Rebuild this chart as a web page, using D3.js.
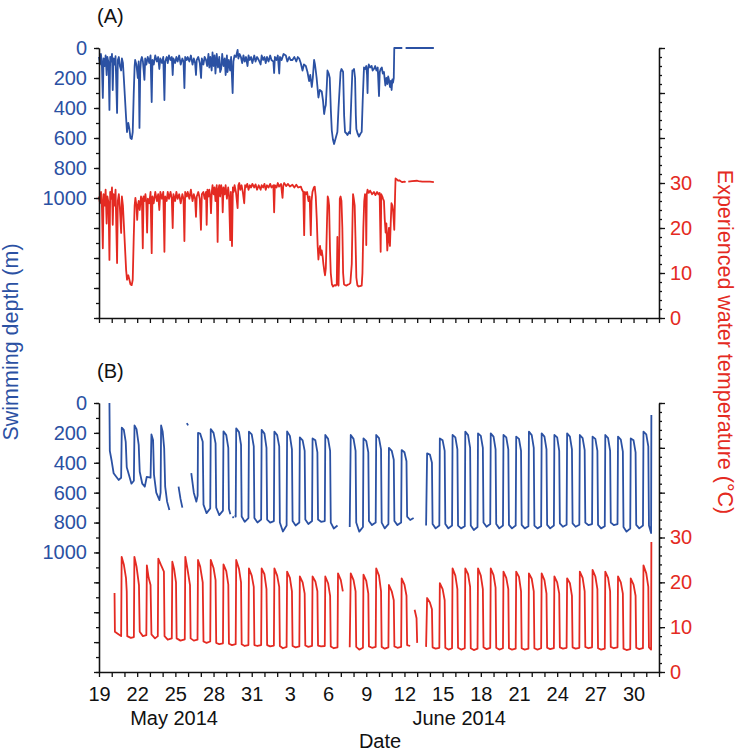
<!DOCTYPE html>
<html><head><meta charset="utf-8">
<script src="https://cdn.jsdelivr.net/npm/d3@7"></script>
<style>
body{margin:0;background:#fff}
text{font-family:"Liberation Sans",Arial,Helvetica,sans-serif}
</style>
</head><body>
<svg id="chart" width="740" height="753"></svg>
<script>
// ---------- data (day offsets from 19 May 2014 00:00 UTC) ----------
const startDate = Date.UTC(2014, 4, 19);
const endDate = Date.UTC(2014, 6, 2);
const depthTickLabels = [0, 200, 400, 600, 800, 1000];
const tempTickLabels = [0, 10, 20, 30];
const monthLabels = [["May 2014", 5.9], ["June 2014", 28.3]];
const panelLabels = ["(A)", "(B)"];

const aDepth = [
[0.0,60],[0.08,110],[0.15,40],[0.22,90],[0.3,333],[0.36,70],[0.45,120],[0.52,50],[0.6,180],[0.66,60],[0.75,100],[0.82,413],[0.88,60],[0.95,90],[1.02,40],[1.08,280],[1.14,70],[1.22,110],[1.3,55],[1.42,433],[1.48,80],[1.56,60],[1.64,120],[1.74,150],[1.8,70],[1.88,100],[1.95,200],
[2.13,467],[2.2,560],[2.3,500],[2.39,540],[2.47,600],[2.57,607],[2.65,560],[2.73,300],[2.8,120],[2.84,80],[2.94,110],[3.05,200],[3.12,90],[3.18,533],[3.24,150],[3.3,80],[3.37,60],
[3.45,90],[3.57,213],[3.63,70],[3.72,110],[3.83,60],[3.95,100],[4.05,50],[4.14,360],[4.2,80],[4.3,110],[4.42,50],[4.55,90],[4.65,60],[4.74,140],[4.82,70],[4.95,100],[5.05,60],[5.14,347],[5.2,90],[5.32,60],[5.4,100],[5.5,50],[5.62,80],[5.72,60],[5.79,180],[5.85,70],[5.98,100],[6.08,60],[6.18,90],[6.3,50],[6.42,110],[6.55,70],[6.64,90],[6.71,267],[6.77,60],[6.9,80],[6.97,60],
[7.1,90],[7.22,50],[7.35,110],[7.45,70],[7.55,100],[7.62,180],[7.68,80],[7.8,60],[7.92,100],[8.02,200],[8.08,70],[8.2,110],[8.3,60],[8.41,80],[8.5,120],[8.6,40],[8.67,130],[8.75,60],[8.85,150],[8.92,30],[9.0,120],[9.08,50],[9.15,170],[9.25,40],[9.35,130],[9.45,60],[9.52,160],[9.6,140],[9.68,40],[9.78,120],[9.88,70],[9.95,180],[10.05,50],[10.1,160],[10.2,80],[10.3,150],[10.38,60],[10.5,300],[10.56,90],[10.65,50],[10.76,60],[10.89,13],[10.95,70],[11.05,40],[11.15,60],[11.25,100],[11.35,50],[11.45,90],[11.55,60],[11.67,120],[11.75,50],[11.85,80],[11.95,60],[12.05,100],[12.2,50],[12.3,90],[12.42,60],[12.55,80],[12.7,110],[12.78,50],[12.9,80],[13.0,60],[13.1,100],[13.2,60],[13.32,90],[13.45,50],[13.55,80],[13.7,90],[13.76,167],[13.82,60],[13.95,80],[14.05,50],[14.16,170],[14.22,60],[14.35,80],[14.5,40],[14.68,50],[14.8,90],[14.95,60],[15.05,80],[15.2,80],[15.35,60],[15.5,90],[15.62,60],[15.73,70],[15.85,100],[15.99,150],[16.1,110],[16.25,120],[16.38,160],[16.51,220],[16.6,180],[16.72,260],[16.8,200],[16.9,80],[16.97,110],[17.03,150],[17.1,200],[17.24,330],[17.35,280],[17.5,290],[17.6,350],[17.69,440],[17.76,400],[17.82,380],[17.9,250],[17.95,150],[18.05,170],[18.13,200],[18.22,420],[18.29,550],[18.38,610],[18.47,640],[18.6,600],[18.73,560],[18.82,400],[18.92,250],[18.98,160],[19.05,140],[19.12,150],[19.18,160],[19.26,450],[19.33,560],[19.45,570],[19.52,580],[19.65,560],[19.73,570],[19.82,350],[19.91,150],[19.98,150],[20.04,140],[20.12,200],[20.18,450],[20.22,540],[20.32,570],[20.43,590],[20.55,570],[20.64,560],[20.72,350],[20.82,130],[20.9,140],[21.0,120],[21.06,180],[21.1,300],[21.14,140],[21.2,110],[21.3,130],[21.42,120],[21.5,150],[21.6,140],[21.7,120],[21.8,150],[21.9,130],[22.0,320],[22.06,160],[22.13,140],[22.22,130],[22.3,170],[22.39,160],[22.45,210],[22.5,250],[22.58,200],[22.66,240],[22.72,190],[22.78,210],[22.86,260],[22.93,220],[22.99,280],[23.05,210],[23.1,230],[23.16,200],[23.2,0],[23.83,0],[23.9,null],[24.09,0],[26.31,0]
];

const aTemp = [
[0.0,27],[0.08,25.5],[0.16,28],[0.22,26],[0.3,15.5],[0.36,27.5],[0.45,25],[0.52,28.5],[0.6,21],[0.66,27],[0.75,25.5],[0.82,12.9],[0.88,28],[0.95,26.5],[1.02,29],[1.08,20.7],[1.14,27.5],[1.22,25],[1.3,28.5],[1.42,12.2],[1.48,26],[1.56,27.5],[1.64,24.5],[1.74,18.9],[1.8,27],[1.88,25],[1.95,21],
[2.13,10.7],[2.2,8.5],[2.3,9.5],[2.39,8.5],[2.47,7.5],[2.57,7.3],[2.65,8.5],[2.73,18],[2.8,25],[2.86,26.7],[2.94,25],[3.0,21.8],[3.06,25],[3.12,26],[3.2,24],[3.3,27],[3.37,26.5],
[3.44,15.5],[3.5,27],[3.57,26],[3.65,27.5],[3.72,25.5],[3.78,19],[3.84,26.5],[3.95,25.5],[4.05,28],[4.14,14.4],[4.2,27],[4.3,25.5],[4.42,28],[4.55,26],[4.65,27.5],[4.74,24],[4.82,28],[4.95,26.5],[5.05,28],[5.14,14.7],[5.2,27],[5.32,26],[5.4,28],[5.5,26.5],[5.62,28],[5.72,26.5],[5.79,20],[5.85,27.5],[5.98,26],[6.08,28],[6.18,26.5],[6.3,27.5],[6.42,25.5],[6.55,27.5],[6.64,26.5],[6.71,17.1],[6.77,28],[6.9,27],[6.97,28],
[7.1,26.5],[7.22,28.5],[7.35,26],[7.45,27.5],[7.55,26.5],[7.62,22.5],[7.68,27],[7.8,28],[7.92,26.5],[8.01,19.6],[8.08,27.5],[8.2,28],[8.3,26.5],[8.41,28],[8.46,20.7],[8.52,28.5],[8.6,27],[8.67,28.5],[8.75,26.5],[8.8,23.3],[8.86,28],[8.92,29.5],[9.0,27.5],[9.08,29],[9.15,26],[9.25,29.5],[9.32,16.9],[9.38,28.5],[9.45,29.5],[9.52,27],[9.6,29.5],[9.68,28],[9.72,23.5],[9.78,29],[9.88,27.5],[9.95,29.5],[10.05,26.5],[10.15,29],[10.22,27],[10.31,17.3],[10.36,28],[10.45,16],[10.52,29],[10.58,28],[10.65,29.5],[10.76,28],[10.89,24.4],[10.95,29.5],[11.02,30],[11.1,28.5],[11.2,29.5],[11.3,28],[11.41,25.5],[11.48,29.5],[11.54,29],[11.65,29.8],[11.75,28.5],[11.85,29.5],[11.95,29],[12.05,29.8],[12.2,29],[12.3,29.7],[12.42,28.5],[12.55,29.5],[12.7,28.5],[12.78,29.5],[12.9,29],[13.0,29.8],[13.1,28.5],[13.2,29.5],[13.32,29],[13.45,29.8],[13.55,29],[13.7,29.5],[13.76,23.5],[13.82,29.5],[13.95,29],[14.05,30],[14.15,29.2],[14.3,29.8],[14.42,26.7],[14.48,29.5],[14.55,30],[14.7,29.3],[14.85,29.8],[15.0,29.2],[15.2,29.6],[15.35,29],[15.5,29.6],[15.65,29],[15.86,29.2],[15.95,28.5],[16.05,28],[16.12,18.4],[16.18,28],[16.25,27.5],[16.35,28],[16.46,26],[16.55,27],[16.64,18.4],[16.7,26],[16.77,28],[16.88,29],[16.95,29.2],[17.03,27],[17.11,22],[17.18,16],[17.24,13],[17.3,15],[17.37,16],[17.44,14],[17.5,15],[17.58,13.5],[17.63,12],[17.7,10.5],[17.76,9.5],[17.82,11],[17.86,15],[17.92,22],[17.97,27],[18.02,26.5],[18.08,25],[18.15,15],[18.21,10],[18.3,7.5],[18.39,7],[18.5,7.3],[18.6,7.2],[18.68,7.5],[18.73,18],[18.76,7.5],[18.82,7.2],[18.88,15],[18.92,26.5],[18.98,27],[19.05,26],[19.12,20],[19.18,10],[19.25,7.5],[19.33,7.3],[19.45,7.2],[19.55,7.4],[19.65,7.5],[19.75,7.8],[19.86,12],[19.92,22],[19.96,27.5],[20.02,26.5],[20.09,25],[20.15,18],[20.22,9],[20.3,7.3],[20.38,7],[20.5,7.1],[20.64,7.2],[20.7,10],[20.77,20],[20.84,26],[20.9,27.5],[20.96,27],[21.0,16.2],[21.04,27.5],[21.1,28.5],[21.2,27.8],[21.3,28.3],[21.46,27.5],[21.6,28],[21.72,27.3],[21.85,28],[21.95,27.5],[22.05,27.8],[22.13,14.7],[22.18,27.5],[22.26,27],[22.32,26.5],[22.39,26],[22.45,22],[22.52,19],[22.58,21],[22.65,15],[22.72,18],[22.78,20],[22.83,17],[22.86,16],[22.92,21],[22.98,25.5],[23.05,25],[23.1,24],[23.15,22],[23.2,19.6],[23.26,27],[23.3,31],[23.4,30.8],[23.5,30.5],[23.6,30.6],[23.7,30.4],[23.83,30.2],[24.0,30.3],[24.09,30.2],[24.15,null],[24.3,30.3],[24.6,30.4],[25.0,30.5],[25.1,30.4],[25.4,30.3],[25.6,30.3],[26.0,30.3],[26.31,30.2]
];

const bDepth = [
[0.82,0],[0.85,320],[1.0,390],[1.15,470],[1.37,495],[1.55,515],[1.74,500],
[1.79,165],[1.95,180],[2.1,260],[2.18,430],[2.35,480],[2.55,540],[2.74,520],
[2.79,150],[2.95,175],[3.12,280],[3.2,460],[3.4,540],[3.6,560],[3.75,495],[4.05,500],
[4.12,210],[4.25,250],[4.32,480],[4.5,600],[4.75,650],[4.84,600],
[4.88,150],[5.0,190],[5.12,300],[5.2,560],[5.35,660],[5.53,716],[5.56,null],
[6.25,560],[6.4,640],[6.55,700],[6.58,null],[6.9,135],[7.0,150],[7.03,null],
[7.25,470],[7.45,600],[7.65,660],[7.75,620],
[7.78,200],[7.95,205],[8.15,260],[8.21,680],[8.45,737],[8.74,705],
[8.78,175],[9.0,200],[9.16,270],[9.21,700],[9.45,750],[9.74,720],
[9.78,190],[10.0,215],[10.16,300],[10.21,710],[10.32,745],[10.33,null],[10.5,760],[10.58,770],[10.6,null],[10.68,750],[10.74,760],
[10.78,170],[11.0,195],[11.16,280],[11.21,760],[11.45,795],[11.74,770],
[11.78,192],[12.0,210],[12.16,290],[12.21,770],[12.45,800],[12.74,780],
[12.78,180],[13.0,205],[13.16,300],[13.21,780],[13.45,800],[13.74,790],
[13.78,192],[14.0,215],[14.16,290],[14.21,800],[14.45,860],[14.74,820],
[14.78,190],[15.0,220],[15.16,310],[15.21,790],[15.45,820],[15.74,800],
[15.78,230],[16.0,250],[16.16,320],[16.21,780],[16.45,810],[16.74,790],
[16.78,237],[17.0,250],[17.16,330],[17.21,780],[17.45,795],[17.74,790],
[17.78,214],[18.0,240],[18.16,320],[18.21,800],[18.45,840],[18.74,820],[18.76,null],
[19.7,830],
[19.78,214],[20.0,240],[20.16,320],[20.21,800],[20.45,861],[20.74,830],
[20.78,237],[21.0,255],[21.16,330],[21.21,790],[21.45,817],[21.74,800],
[21.78,214],[22.0,235],[22.16,310],[22.21,800],[22.45,839],[22.74,810],
[22.78,300],[23.0,320],[23.16,380],[23.21,790],[23.45,817],[23.74,800],
[23.78,315],[24.0,330],[24.16,390],[24.21,760],[24.45,783],[24.72,770],[24.74,null],
[25.7,820],
[25.78,337],[26.0,345],[26.16,400],[26.21,810],[26.45,839],[26.74,820],
[26.78,237],[27.0,250],[27.16,320],[27.21,810],[27.45,839],[27.74,820],
[27.78,214],[28.0,230],[28.16,310],[28.21,820],[28.45,839],[28.74,825],
[28.78,192],[29.0,215],[29.16,300],[29.21,820],[29.45,850],[29.74,830],
[29.78,203],[30.0,220],[30.16,300],[30.21,800],[30.45,828],[30.74,810],
[30.78,203],[31.0,225],[31.16,310],[31.21,810],[31.45,839],[31.74,820],
[31.78,214],[32.0,230],[32.16,310],[32.21,815],[32.45,839],[32.74,820],
[32.78,225],[33.0,240],[33.16,320],[33.21,815],[33.45,839],[33.74,825],
[33.78,192],[34.0,215],[34.16,300],[34.21,820],[34.45,839],[34.74,825],
[34.78,203],[35.0,225],[35.16,310],[35.21,815],[35.45,839],[35.74,820],
[35.78,214],[36.0,230],[36.16,320],[36.21,805],[36.45,828],[36.74,815],
[36.78,203],[37.0,225],[37.16,310],[37.21,805],[37.45,828],[37.74,815],
[37.78,214],[38.0,235],[38.16,315],[38.21,800],[38.45,817],[38.74,810],
[38.78,225],[39.0,240],[39.16,320],[39.21,815],[39.45,839],[39.74,825],
[39.78,214],[40.0,235],[40.16,320],[40.21,800],[40.45,817],[40.74,810],
[40.78,225],[41.0,245],[41.16,325],[41.21,830],[41.45,861],[41.74,840],
[41.78,237],[42.0,250],[42.16,330],[42.21,815],[42.45,839],[42.74,820],
[42.78,192],[43.0,210],[43.16,290],[43.21,820],[43.38,870],[43.4,80]
];

const bTemp = [
[1.22,17.6],[1.25,9.0],[1.5,8.5],[1.74,8.0],
[1.78,25.7],[1.95,24],[2.12,21],[2.18,18],[2.22,8.0],[2.5,7.6],[2.74,7.8],
[2.78,25.7],[2.95,23.5],[3.14,19.4],[3.2,9.0],[3.45,8.0],[3.72,8.2],
[3.76,23.8],[3.9,21],[4.05,19.4],[4.12,8.4],[4.4,7.5],[4.62,8.0],
[4.66,25.3],[4.85,24],[5.1,22.4],[5.15,8.0],[5.4,7.2],[5.72,7.5],
[5.76,24.6],[5.9,23],[6.05,20],[6.1,7.5],[6.4,7.0],[6.74,7.3],
[6.78,25.7],[6.95,23],[7.15,19.4],[7.2,7.5],[7.45,7.0],[7.74,7.2],
[7.78,25.0],[7.95,23.5],[8.15,20],[8.21,6.8],[8.45,6.5],[8.74,6.8],
[8.78,25.0],[9.0,23.2],[9.16,20.5],[9.21,6.5],[9.45,6.2],[9.74,6.4],
[9.78,24.0],[10.0,22.5],[10.16,19.5],[10.21,6.3],[10.45,6.0],[10.74,6.2],
[10.78,25.0],[11.0,23],[11.16,20],[11.21,6.2],[11.45,5.8],[11.74,6.0],
[11.78,23.1],[12.0,21.5],[12.16,19],[12.21,6.0],[12.45,5.8],[12.74,6.0],
[12.78,23.1],[13.0,21.8],[13.16,18.5],[13.21,6.0],[13.45,5.7],[13.74,5.9],
[13.78,23.1],[14.0,21.5],[14.16,19],[14.21,5.8],[14.45,5.3],[14.74,5.6],
[14.78,22.4],[15.0,21],[15.16,18],[15.21,5.8],[15.45,5.5],[15.74,5.7],
[15.78,21.3],[16.0,20],[16.16,17.5],[16.21,5.9],[16.45,5.6],[16.74,5.8],
[16.78,21.3],[17.0,20.2],[17.16,18],[17.21,5.9],[17.45,5.7],[17.74,5.8],
[17.78,21.3],[18.0,19.8],[18.16,17],[18.21,5.7],[18.45,5.3],[18.74,5.5],
[18.78,22.0],[19.0,20.5],[19.16,18],[19.18,null],[19.7,5.5],
[19.78,22.0],[20.0,20.5],[20.16,18],[20.21,5.6],[20.45,5.0],[20.74,5.4],
[20.78,21.7],[21.0,20.3],[21.16,17.5],[21.21,5.7],[21.45,5.4],[21.74,5.6],
[21.78,23.1],[22.0,21.5],[22.16,18],[22.21,5.6],[22.45,5.2],[22.74,5.5],
[22.78,19.4],[23.0,18],[23.16,16],[23.21,5.7],[23.45,5.4],[23.74,5.6],
[23.78,20.9],[24.0,19.5],[24.16,17],[24.21,6.0],[24.45,5.8],[24.5,null],[24.8,13.9],[24.95,12],[25.0,6.5],[25.05,null],[25.7,5.6],
[25.78,16.5],[26.0,15.5],[26.16,14],[26.21,5.5],[26.45,5.2],[26.74,5.4],
[26.78,19.8],[27.0,18.5],[27.16,16],[27.21,5.4],[27.45,5.0],[27.74,5.3],
[27.78,23.1],[28.0,21.5],[28.16,18.5],[28.21,5.4],[28.45,5.0],[28.74,5.3],
[28.78,23.1],[29.0,21.8],[29.16,19],[29.21,5.3],[29.45,4.9],[29.74,5.2],
[29.78,23.1],[30.0,21.5],[30.16,18.5],[30.21,5.5],[30.45,5.1],[30.74,5.4],
[30.78,23.1],[31.0,21.6],[31.16,18.8],[31.21,5.4],[31.45,5.0],[31.74,5.3],
[31.78,22.4],[32.0,21],[32.16,18.5],[32.21,5.3],[32.45,5.0],[32.74,5.2],
[32.78,22.4],[33.0,21.2],[33.16,18],[33.21,5.3],[33.45,5.0],[33.74,5.2],
[33.78,22.0],[34.0,20.8],[34.16,18],[34.21,5.3],[34.45,5.0],[34.74,5.3],
[34.78,22.0],[35.0,20.5],[35.16,17.5],[35.21,5.4],[35.45,5.1],[35.74,5.3],
[35.78,21.3],[36.0,20],[36.16,17.5],[36.21,5.5],[36.45,5.2],[36.74,5.4],
[36.78,20.9],[37.0,19.8],[37.16,17],[37.21,5.5],[37.45,5.2],[37.74,5.4],
[37.78,22.4],[38.0,21],[38.16,18],[38.21,5.6],[38.45,5.3],[38.74,5.5],
[38.78,22.8],[39.0,21.3],[39.16,18.5],[39.21,5.3],[39.45,5.0],[39.74,5.2],
[39.78,22.4],[40.0,21],[40.16,18],[40.21,5.6],[40.45,5.3],[40.74,5.5],
[40.78,21.3],[41.0,20],[41.16,17.5],[41.21,5.2],[41.45,4.9],[41.74,5.1],
[41.78,20.9],[42.0,19.5],[42.16,17],[42.21,5.4],[42.45,5.1],[42.74,5.3],
[42.78,23.8],[43.0,22],[43.16,19],[43.21,5.5],[43.38,5.0],[43.4,29]
];

// ---------- drawing ----------
const BLUE = "#2b51a3", RED = "#e42a22", FS = 20, LW = 1.8;
const svg = d3.select("#chart");
svg.append("rect").attr("width", 740).attr("height", 753).attr("fill", "#fff");

const x = d3.scaleUtc().domain([new Date(startDate), new Date(endDate)]).range([99, 659]);
const toDate = d => new Date(startDate + d * 864e5);
const allDays = d3.utcDay.range(new Date(startDate), new Date(endDate + 1));

const panels = [
  {label: panelLabels[0], top: 48, bottom: 318, depth: aDepth, temp: aTemp, labels: false, labelY: 23},
  {label: panelLabels[1], top: 403, bottom: 672, depth: bDepth, temp: bTemp, labels: true, labelY: 378}
];

panels.forEach(p => {
  const yD = d3.scaleLinear().domain([0, 1800]).range([p.top, p.bottom]);
  const yT = d3.scaleLinear().domain([0, 60]).range([p.bottom, p.top]);
  const g = svg.append("g");

  const lineD = d3.line().defined(q => q[1] != null).x(q => x(toDate(q[0]))).y(q => yD(q[1]));
  const lineT = d3.line().defined(q => q[1] != null).x(q => x(toDate(q[0]))).y(q => yT(q[1]));
  g.append("path").datum(p.temp).attr("d", lineT).attr("fill", "none").attr("stroke", RED).attr("stroke-width", LW).attr("stroke-linejoin", "round");
  g.append("path").datum(p.depth).attr("d", lineD).attr("fill", "none").attr("stroke", BLUE).attr("stroke-width", LW).attr("stroke-linejoin", "round");

  const lMinor = g.append("g").attr("transform", `translate(${x.range()[0]},0)`)
    .call(d3.axisLeft(yD).tickValues(d3.range(0, 1801, 100)).tickSize(3).tickSizeOuter(0).tickFormat(""));
  const lMajor = g.append("g").attr("transform", `translate(${x.range()[0]},0)`)
    .call(d3.axisLeft(yD).tickValues(d3.range(0, 1801, 200)).tickSize(5).tickSizeOuter(0).tickPadding(7)
      .tickFormat(d => depthTickLabels.includes(d) ? d : ""));
  lMajor.selectAll("text").attr("fill", BLUE).style("font-size", FS + "px");

  const rMinor = g.append("g").attr("transform", `translate(${x.range()[1]},0)`)
    .call(d3.axisRight(yT).tickValues(d3.range(0, 61, 2)).tickSize(3).tickSizeOuter(0).tickFormat(""));
  const rMajor = g.append("g").attr("transform", `translate(${x.range()[1]},0)`)
    .call(d3.axisRight(yT).tickValues(d3.range(0, 61, 10)).tickSize(6).tickSizeOuter(0).tickPadding(5)
      .tickFormat(d => tempTickLabels.includes(d) ? d : ""));
  rMajor.selectAll("text").attr("fill", RED).style("font-size", FS + "px");

  const xa = g.append("g").attr("transform", `translate(0,${p.bottom})`)
    .call(d3.axisBottom(x).tickValues(allDays).tickSize(5).tickSizeOuter(0).tickPadding(10)
      .tickFormat((d, i) => (p.labels && i % 3 === 0 && i <= 42) ? d.getUTCDate() : ""));
  xa.selectAll("text").attr("fill", "#111").style("font-size", FS + "px");

  [lMinor, lMajor, rMinor, rMajor, xa].forEach(a => {
    a.selectAll("path,line").attr("stroke", "#111").attr("stroke-width", 1.3);
  });

  g.append("text").attr("x", 97).attr("y", p.labelY).text(p.label)
    .style("font-size", FS + "px").attr("fill", "#111");
});

monthLabels.forEach(([t, d]) => {
  svg.append("text").attr("x", x(toDate(d))).attr("y", 725).attr("text-anchor", "middle")
    .style("font-size", FS + "px").attr("fill", "#111").text(t);
});
svg.append("text").attr("x", 380).attr("y", 748).attr("text-anchor", "middle")
  .style("font-size", FS + "px").attr("fill", "#111").text("Date");
svg.append("text").attr("transform", "translate(18,342) rotate(-90)").attr("text-anchor", "middle")
  .style("font-size", "21.5px").attr("fill", BLUE).text("Swimming depth (m)");
svg.append("text").attr("transform", "translate(718,342) rotate(90)").attr("text-anchor", "middle")
  .style("font-size", "21.5px").attr("fill", RED).text("Experienced water temperature (°C)");
</script>
</body></html>
